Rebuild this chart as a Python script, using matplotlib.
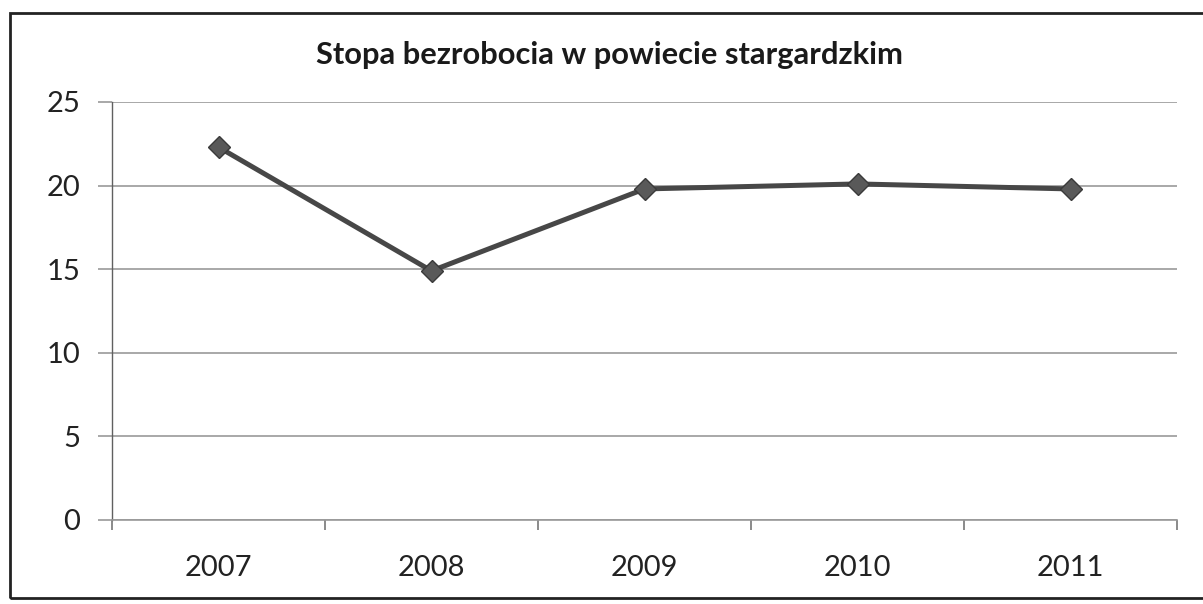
import matplotlib.pyplot as plt
from matplotlib.patches import Rectangle

# unemployment rate, Stargard county
years = ['2007', '2008', '2009', '2010', '2011']
rate = [22.3, 14.9, 19.8, 20.1, 19.8]
yticks = [0, 5, 10, 15, 20, 25]

plt.rcParams['font.family'] = ['Lato', 'DejaVu Sans']

fig = plt.figure(figsize=(12.03, 6.04), dpi=100)
ax = fig.add_axes([112/1203, 1 - 520/604, (1177-112)/1203, (520-102)/604])

x = list(range(len(years)))
ax.plot(x, rate, color='#474747', linewidth=3.6, marker='D', markersize=11.5,
        markerfacecolor='#595959', markeredgecolor='#3a3a3a', markeredgewidth=1, zorder=3)

ax.set_xlim(-0.5, len(years) - 0.5)
ax.set_ylim(0, 25)
ax.set_yticks(yticks)
ax.set_xticks(x)
ax.set_xticklabels(years)
ax.set_xticks([i - 0.5 for i in range(len(years) + 1)], minor=True)

ax.grid(axis='y', color='#999999', linewidth=1.2)
ax.set_axisbelow(True)
for s in ['top', 'right']:
    ax.spines[s].set_visible(False)
ax.spines['left'].set_color('#606060')
ax.spines['bottom'].set_color('#999999')
ax.spines['left'].set_linewidth(1.0)
ax.spines['bottom'].set_linewidth(1.2)

ax.tick_params(axis='y', length=10, width=1.2, color='#999999', labelsize=21, pad=13,
               labelcolor='#222222')
ax.tick_params(axis='x', which='major', length=0, labelsize=21, pad=25, labelcolor='#222222')
ax.tick_params(axis='x', which='minor', length=7, width=1.2, color='#777777')

fig.text(610/1203, 1 - 55/604, 'Stopa bezrobocia w powiecie stargardzkim',
         ha='center', va='center', fontsize=22.2, fontweight='bold', color='#1a1a1a')

fig.patches.append(Rectangle((10/1203, 1 - 598/604), 1.2, (598-13)/604,
                             transform=fig.transFigure, fill=False,
                             edgecolor='#222222', linewidth=2))

fig.savefig('out.png', dpi=100)
